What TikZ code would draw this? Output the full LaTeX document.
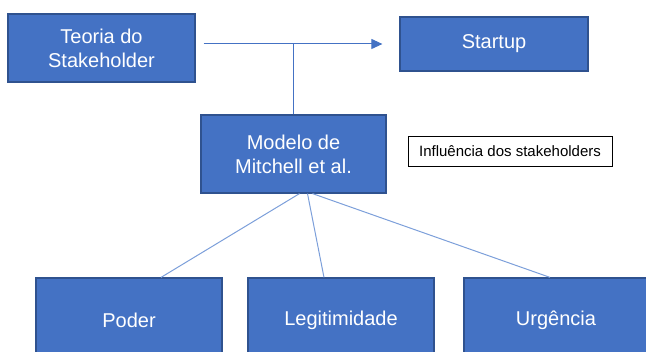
\documentclass[tikz,border=0pt]{standalone}
\usepackage{fontspec}
\setmainfont{Liberation Sans}
\usetikzlibrary{arrows.meta}
\definecolor{boxblue}{HTML}{4472C4}
\definecolor{boxedge}{HTML}{2F528F}
\definecolor{linkblue}{HTML}{7C9FDA}
\tikzset{
  box/.style={draw=boxedge, line width=1.2pt, fill=boxblue, text=white, align=center,
    font=\fontsize{20}{24}\selectfont, inner sep=0pt},
  note/.style={draw=black, line width=0.6pt, fill=white, font=\fontsize{15}{17}\selectfont,
    minimum width=204pt, minimum height=30pt, inner sep=0pt},
  link/.style={linkblue, line width=1pt},
  flow/.style={boxblue, line width=1pt}
}
\begin{document}
\begin{tikzpicture}[x=1pt, y=-1pt]
\useasboundingbox (0,0) rectangle (646,352);
\clip (0,0) rectangle (646,352);
% top row
\node[box, minimum width=187pt, minimum height=68pt] (teoria) at (101.5,48) {Teoria do\\Stakeholder};
\node[box, minimum width=188pt, minimum height=54pt] (startup) at (494,44) {Startup};
% model and its note
\node[box, minimum width=185pt, minimum height=78pt] (modelo) at (293.5,154) {Modelo de\\Mitchell et al.};
\node[note] (influencia) at (510,151) {Influência dos stakeholders};
% attributes
\node[box, minimum width=186pt, minimum height=84pt] (poder) at (129,320) {Poder};
\node[box, minimum width=186pt, minimum height=84pt] (legitimidade) at (341,320) {Legitimidade};
\node[box, minimum width=184pt, minimum height=84pt] (urgencia) at (556,320) {Urgência};
% arrow between theory and startup
\draw[flow, -{Triangle[length=11pt, width=10pt]}, shorten >=17pt]
  ([xshift=8pt]teoria.east |- startup.west) -- (startup.west);
\draw[flow] (modelo.north) -- (modelo.north |- startup.west);
% links to the attributes
\draw[link] ([xshift=6pt]modelo.south) -- ([xshift=32pt]poder.north);
\draw[link] ([xshift=14pt]modelo.south) -- ([xshift=-17pt]legitimidade.north);
\draw[link] ([xshift=19pt]modelo.south) -- ([xshift=-6pt]urgencia.north);
\end{tikzpicture}
\end{document}
